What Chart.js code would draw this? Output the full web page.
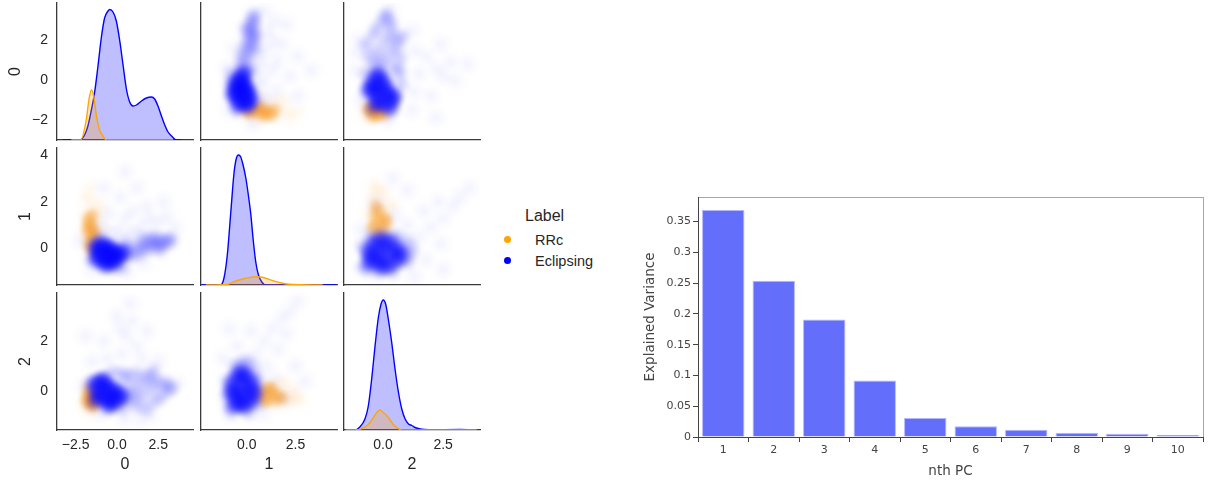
<!DOCTYPE html>
<html>
<head>
<meta charset="utf-8">
<script src="https://cdn.jsdelivr.net/npm/chart.js@4.4.1/dist/chart.umd.min.js"></script>
<style>
  html, body { margin: 0; padding: 0; background: #fff; }
  body { position: relative; width: 1211px; height: 481px; overflow: hidden; }
  canvas { position: absolute; }
  .lg { position: absolute; font-family: 'Liberation Sans', Arial, sans-serif; color: #262626; white-space: nowrap; }
  .dot { position: absolute; width: 7px; height: 7px; border-radius: 50%; }
</style>
</head>
<body>
<div class="lg" style="left:525px;top:206px;font-size:16px;line-height:20px">Label</div>
<div class="dot" style="left:504px;top:236px;background:#ffa500"></div>
<div class="lg" id="lgA" style="left:535px;top:230px;font-size:14.5px;line-height:20px"></div>
<div class="dot" style="left:504px;top:257px;background:#0000ff"></div>
<div class="lg" id="lgB" style="left:535px;top:251px;font-size:14.5px;line-height:20px"></div>
<canvas id="pcaChart" width="581" height="296" style="left:630px;top:185px"></canvas>
<script>
// ---- pair grid data ----
const varNames = ['0', '1', '2'];
const hueLabels = ['RRc', 'Eclipsing'];
const colTicks = [[-2.5, 0, 2.5], [0, 2.5], [0, 2.5]];
const rowTicks = [[-2, 0, 2], [0, 2, 4], [0, 2]];

// KDE curves on the diagonal (density in arbitrary units)
const kde0BlueX = [-3.27, -2.26, -1.96, -1.76, -1.55, -1.35, -1.15, -0.95, -0.75, -0.54, -0.44, -0.24, -0.04, 0.16, 0.36, 0.57, 0.77, 0.97, 1.18, 1.48, 1.78, 2.08, 2.28, 2.48, 2.69, 2.89, 3.09, 3.3, 3.6, 3.9];
const kde0Blue = [0, 0, 5, 14, 30, 48, 74, 102, 122, 129, 130.5, 128, 119, 100, 76, 51, 38, 34, 35, 39, 42, 43, 41, 34, 24, 15, 8, 4, 0, 0];
const kde0OrangeX = [-2.76, -2.2, -1.86, -1.7, -1.55, -1.41, -1.25, -1.05, -0.85, -0.64, 3.4];
const kde0Orange = [0, 0, 20, 40, 50, 44, 25, 10, 4, 0, 0];

const kde1BlueX = [-2.3, -1.34, -1.17, -1.0, -0.82, -0.65, -0.53, -0.43, -0.31, -0.19, -0.05, 0.08, 0.21, 0.32, 0.46, 0.6, 0.77, 0.98, 4.6];
const kde1Blue = [0, 0, 7, 30, 73, 113, 127, 130, 128, 120, 107, 90, 70, 47, 23, 10, 3, 0, 0];
const kde1OrangeX = [-2.1, -1.0, -0.74, -0.4, -0.05, 0.29, 0.55, 0.8, 1.15, 1.49, 1.83, 2.18, 3.9];
const kde1Orange = [0, 0.5, 2.7, 5, 6.7, 8, 8.3, 7.7, 5.7, 3.3, 1.7, 0.7, 0];

const kde2BlueX = [-1.55, -1.17, -0.96, -0.75, -0.61, -0.47, -0.33, -0.19, -0.08, 0.01, 0.11, 0.22, 0.36, 0.5, 0.64, 0.78, 0.92, 1.06, 1.2, 1.33, 1.54, 1.9, 3.2, 3.9];
const kde2Blue = [0, 0, 3, 11, 24, 51, 84, 113, 126, 130, 126, 111, 88, 61, 38, 21, 11, 6, 4.5, 2.5, 1, 0.3, 0.5, 0];
const kde2OrangeX = [-1.55, -1.17, -0.61, -0.4, -0.26, -0.12, 0.01, 0.15, 0.29, 0.43, 0.57, 0.78, 3.9];
const kde2Orange = [0, 0, 5.5, 12.5, 17.5, 20, 17.5, 14.5, 10.5, 5.5, 2.5, 0, 0];

// scatter clouds, pairs of [var a, var b] with a < b
const cloud01BlueCore = [[-1.3, 0.05], [-1.1, -0.2], [-1.0, 0.15], [-0.8, -0.05], [-0.8, -0.4], [-0.6, 0.1], [-0.55, -0.25], [-0.5, -0.6], [-0.35, -0.05], [-0.3, -0.4], [-0.1, -0.2], [-0.1, -0.55], [0.15, -0.3], [0.35, -0.15], [-1.2, -0.45], [-0.75, -0.7]];
const cloud01BlueMid = [[0.7, -0.3], [0.9, 0.0], [1.1, -0.3], [1.3, 0.1], [1.5, -0.15], [1.7, 0.2], [1.9, 0.0], [2.1, 0.3], [2.3, 0.1], [2.5, 0.35], [2.7, 0.15], [2.9, 0.4], [3.1, 0.25], [3.3, 0.4], [2.2, 0.5], [2.6, -0.05], [1.6, 0.45], [0.5, 0.2], [-1.5, -0.5], [0.3, -0.8], [-0.2, -0.85], [-1.0, 0.45]];
const cloud01BlueFaint = [[0.0, 0.8], [0.5, 1.3], [1.0, 1.6], [1.5, 1.0], [-0.5, 1.5], [0.2, 2.2], [1.2, 2.6], [2.5, 1.1], [0.8, 0.7], [-1.0, 1.0], [1.8, 1.8], [0.5, 3.3], [2.8, 2.0], [0.6, -1.0], [1.6, -0.6], [-1.5, -0.9], [3.5, 0.9], [-0.8, 2.6], [-0.3, 0.6], [0.3, 0.4], [1.1, 0.6], [2.0, 1.3], [-2.2, 0.3], [3.0, 1.4]];
const cloud01OrangeCore = [[-1.7, 0.2], [-1.5, 0.4], [-1.65, 0.65], [-1.45, 0.85], [-1.6, 1.05], [-1.75, 1.25], [-1.5, 1.45], [-1.35, 0.6], [-1.8, 0.9], [-1.55, 0.0]];
const cloud01OrangeFaint = [[-1.3, 1.2], [-1.9, 2.2], [-1.5, 2.0], [-1.1, 1.5], [-1.9, 1.5], [-1.2, 0.3], [-2.0, 0.6], [-1.6, 2.6], [-1.0, 1.9], [-1.3, -0.3], [-1.7, -0.3], [-0.9, 0.8]];

const cloud02BlueCore = [[-1.4, 0.3], [-1.2, 0.0], [-1.0, 0.35], [-0.9, -0.2], [-0.7, 0.15], [-0.6, -0.35], [-0.45, 0.1], [-0.35, -0.2], [-0.2, -0.45], [-0.1, 0.05], [0.1, -0.3], [0.3, -0.15], [-0.8, 0.45], [-0.5, -0.6], [-1.2, -0.3]];
const cloud02BlueMid = [[0.6, 0.5], [0.7, -0.4], [0.9, 0.1], [1.1, 0.7], [1.2, -0.6], [1.4, 0.3], [1.5, -0.2], [1.7, 0.6], [1.8, -0.7], [2.0, 0.1], [2.1, 0.5], [2.3, -0.4], [2.5, 0.3], [2.7, -0.2], [2.9, 0.35], [3.1, 0.05], [3.3, 0.15], [1.0, -0.2], [2.2, 0.8], [0.4, 0.7], [-0.2, 0.75], [-1.5, -0.5], [0.3, -0.7]];
const cloud02BlueFaint = [[0.8, 3.5], [0.9, 2.8], [0.6, 2.2], [1.2, 1.8], [0.3, 1.5], [-0.6, 1.3], [-1.5, 1.2], [-1.9, 2.2], [0.0, 3.0], [1.5, 1.3], [2.5, 1.2], [-0.8, 2.0], [1.8, 2.4], [-1.0, -0.9], [0.5, -1.1], [1.4, -1.1], [3.6, 0.3], [-2.0, 0.2], [2.0, -1.0], [0.2, 2.5]];
const cloud02OrangeCore = [[-1.75, -0.2], [-1.6, -0.45], [-1.45, -0.3], [-1.5, -0.6], [-1.7, 0.05], [-1.35, -0.5], [-1.6, -0.15], [-1.85, -0.4]];
const cloud02OrangeFaint = [[-1.9, 0.2], [-1.2, -0.7], [-1.0, -0.3], [-2.0, -0.6], [-1.4, 0.2], [-1.7, -0.8], [-1.1, 0.0]];

const cloud12BlueCore = [[-0.7, 0.3], [-0.6, -0.2], [-0.5, 0.6], [-0.4, 0.0], [-0.35, -0.45], [-0.2, 0.35], [-0.1, -0.2], [0.0, 0.6], [0.1, 0.1], [0.2, -0.4], [0.3, 0.3], [-0.6, -0.55], [-0.8, 0.0], [0.35, -0.1], [-0.25, 0.75], [-0.15, -0.6]];
const cloud12BlueMid = [[-1.0, 0.4], [-0.9, -0.6], [0.5, 0.6], [0.5, -0.5], [-0.3, 1.1], [0.1, -0.85], [-0.6, 1.0], [0.3, 1.0], [-0.8, -0.85], [0.6, 0.0], [-1.0, -0.2], [0.0, 1.2]];
const cloud12BlueFaint = [[0.5, 1.5], [0.9, 2.0], [1.3, 2.5], [1.8, 2.9], [2.2, 3.2], [2.6, 3.6], [1.0, 1.0], [1.6, 1.7], [-0.5, 1.8], [0.2, 2.4], [2.0, 2.3], [1.4, 0.5], [2.5, 1.0], [-1.2, 1.3], [0.8, -0.9], [3.0, 0.4], [-0.9, 2.5], [1.9, -0.3]];
const cloud12OrangeCore = [[0.6, -0.2], [0.8, 0.0], [1.0, -0.3], [1.2, -0.1], [1.4, -0.35], [1.1, 0.15], [1.6, -0.15], [1.8, -0.3], [0.9, -0.45], [1.3, 0.1]];
const cloud12OrangeFaint = [[2.0, -0.1], [2.3, -0.3], [2.6, -0.2], [1.7, 0.25], [2.1, -0.5], [0.7, 0.3], [1.5, -0.6], [2.4, 0.1], [2.7, -0.4], [1.9, 0.4]];

// ---- PCA data ----
const pcLabels = ['1', '2', '3', '4', '5', '6', '7', '8', '9', '10'];
const explainedVar = [0.369, 0.254, 0.191, 0.092, 0.031, 0.0173, 0.0119, 0.007, 0.0054, 0.0037];
const varTicks = [0, 0.05, 0.1, 0.15, 0.2, 0.25, 0.3, 0.35];

// ---- pair grid layout ----
const colLeft = [57, 201, 344];
const rowTop = [3, 148, 293];
const PW = 136, PH = 137;
const colLim = [[-3.63, 4.6], [-2.35, 4.63], [-1.62, 4.03]];
const rowLim = [[-3.02, 3.9], [-1.57, 4.32], [-1.56, 3.94]];

const SPINE = '#3a3a3a';
const INK = '#262626';
const FONT = "'Liberation Sans', Arial, sans-serif";
const BLUE = '#0000ff';
const ORANGE = '#ffa500';

document.getElementById('lgA').textContent = hueLabels[0];
document.getElementById('lgB').textContent = hueLabels[1];

const minus = v => (v < 0 ? '\u2212' : '');
const fmtCol = v => minus(v) + Math.abs(v).toFixed(1);
const fmtRow = v => minus(v) + Math.abs(v);

const toPts = (xs, ys) => xs.map((x, i) => ({x: x, y: ys[i]}));
const cloudPts = (pairs, flip) => pairs.map(p => flip ? {x: p[1], y: p[0]} : {x: p[0], y: p[1]});

const kdes = [
  {bx: kde0BlueX, b: kde0Blue, ox: kde0OrangeX, o: kde0Orange},
  {bx: kde1BlueX, b: kde1Blue, ox: kde1OrangeX, o: kde1Orange},
  {bx: kde2BlueX, b: kde2Blue, ox: kde2OrangeX, o: kde2Orange}
];
const clouds = {
  '0,1': [cloud01BlueCore, cloud01BlueMid, cloud01BlueFaint, cloud01OrangeCore, cloud01OrangeFaint],
  '0,2': [cloud02BlueCore, cloud02BlueMid, cloud02BlueFaint, cloud02OrangeCore, cloud02OrangeFaint],
  '1,2': [cloud12BlueCore, cloud12BlueMid, cloud12BlueFaint, cloud12OrangeCore, cloud12OrangeFaint]
};

// blur per layer so the dense cores stay solid and the halo spreads out
const layerBlur = [3, 3.5, 5, 2.5, 4];
const haze = {
  id: 'haze',
  beforeDatasetDraw(chart, args) { chart.ctx.save(); chart.ctx.filter = 'blur(' + layerBlur[args.index] + 'px)'; },
  afterDatasetDraw(chart) { chart.ctx.restore(); }
};

// fixed axis box, no extra room for edge labels
function fixBox(a, w, h) {
  if (w !== null) a.width = w;
  if (h !== null) a.height = h;
  a.paddingTop = a.paddingBottom = a.paddingLeft = a.paddingRight = 0;
}

function makeScales(r, c, padL, padB, diag) {
  const left = c === 0, bottom = r === 2;
  const s = {
    x: {
      type: 'linear', min: colLim[c][0], max: colLim[c][1],
      grid: {display: false, drawTicks: false},
      border: {color: SPINE, width: 1.3},
      ticks: {display: bottom, padding: 7, maxRotation: 0, color: INK, font: {family: FONT, size: 14}, callback: fmtCol},
      title: {display: bottom, text: varNames[c], color: INK, font: {family: FONT, size: 16}, padding: 0},
      afterBuildTicks: a => { a.ticks = colTicks[c].map(v => ({value: v})); },
      afterFit: a => fixBox(a, null, padB)
    },
    y: {
      type: 'linear', min: rowLim[r][0], max: rowLim[r][1],
      grid: {display: false, drawTicks: false},
      border: {color: SPINE, width: 1.3},
      ticks: {display: left, padding: 9, color: INK, font: {family: FONT, size: 14}, callback: fmtRow},
      title: {display: left, text: varNames[r], color: INK, font: {family: FONT, size: 16}, padding: 0},
      afterBuildTicks: a => { a.ticks = rowTicks[r].map(v => ({value: v})); },
      afterFit: a => fixBox(a, padL, null)
    }
  };
  if (diag) s.yd = {type: 'linear', display: false, min: 0, max: PH};
  return s;
}

function kdeSet(xs, ys, color, fill) {
  return {
    data: toPts(xs, ys), yAxisID: 'yd',
    borderColor: color, borderWidth: 1.4, backgroundColor: fill, fill: 'origin',
    pointRadius: 0, cubicInterpolationMode: 'monotone'
  };
}

function cloudSets(key, flip) {
  const [bc, bm, bf, oc, of] = clouds[key];
  const dot = (pairs, color, radius) => ({
    data: cloudPts(pairs, flip), backgroundColor: color, borderWidth: 0, pointRadius: radius
  });
  // first dataset is drawn on top
  return [
    dot(bc, 'rgba(0,0,255,0.55)', 8),
    dot(bm, 'rgba(0,0,255,0.2)', 6.5),
    dot(bf, 'rgba(0,0,255,0.07)', 6),
    dot(oc, 'rgba(245,145,20,0.35)', 6.5),
    dot(of, 'rgba(255,160,0,0.12)', 5)
  ];
}

for (let r = 0; r < 3; r++) {
  for (let c = 0; c < 3; c++) {
    const padL = c === 0 ? (r === 0 ? 51 : 41) : 2;
    const padB = r === 2 ? 44 : 2;
    const cv = document.createElement('canvas');
    cv.width = PW + padL + 2;
    cv.height = PH + padB + 2;
    cv.style.left = (colLeft[c] - padL) + 'px';
    cv.style.top = (rowTop[r] - 2) + 'px';
    document.body.appendChild(cv);

    const diag = r === c;
    let datasets;
    if (diag) {
      const k = kdes[r];
      datasets = [
        kdeSet(k.ox, k.o, ORANGE, 'rgba(255,165,0,0.25)'),
        kdeSet(k.bx, k.b, BLUE, 'rgba(0,0,255,0.25)')
      ];
    } else {
      const lo = Math.min(r, c), hi = Math.max(r, c);
      datasets = cloudSets(lo + ',' + hi, c > r);
    }

    new Chart(cv, {
      type: diag ? 'line' : 'scatter',
      data: {datasets: datasets},
      options: {
        responsive: false, animation: false, events: [],
        layout: {autoPadding: false, padding: {top: 2, right: 2, left: 0, bottom: 0}},
        plugins: {legend: {display: false}, tooltip: {enabled: false}},
        scales: makeScales(r, c, padL, padB, diag)
      },
      plugins: diag ? [] : [haze]
    });
  }
}

// ---- explained variance bars ----
const frame = {
  id: 'frame',
  beforeDraw(chart) {
    const {ctx, chartArea: a} = chart;
    ctx.save();
    ctx.strokeStyle = '#a8a8a8';
    ctx.lineWidth = 1;
    ctx.strokeRect(Math.round(a.left) + 0.5, Math.round(a.top) + 0.5, Math.round(a.right - a.left), Math.round(a.bottom - a.top));
    ctx.restore();
  }
};

const PFONT = "'DejaVu Sans', Verdana, sans-serif";
const PINK = '#444';

new Chart(document.getElementById('pcaChart'), {
  type: 'bar',
  data: {
    labels: pcLabels,
    datasets: [{
      data: explainedVar,
      backgroundColor: '#636efa',
      borderColor: '#b4b8fb',
      borderWidth: 1,
      barPercentage: 0.84,
      categoryPercentage: 1
    }]
  },
  options: {
    responsive: false, animation: false, events: [],
    layout: {autoPadding: false, padding: {top: 12, right: 8, left: 0, bottom: 0}},
    plugins: {legend: {display: false}, tooltip: {enabled: false}},
    scales: {
      x: {
        grid: {display: true, drawOnChartArea: false, tickLength: 5, color: PINK},
        border: {color: PINK, width: 1},
        ticks: {padding: 2, maxRotation: 0, color: PINK, font: {family: PFONT, size: 11}},
        title: {display: true, text: 'nth PC', color: PINK, font: {family: PFONT, size: 13.5}, padding: {top: 0, bottom: 1}},
        afterFit: a => fixBox(a, null, 44)
      },
      y: {
        min: 0, max: 0.39,
        grid: {display: true, drawOnChartArea: false, tickLength: 5, color: PINK},
        border: {color: PINK, width: 1},
        ticks: {padding: 2, color: PINK, font: {family: PFONT, size: 11}, callback: v => String(v)},
        title: {display: true, text: 'Explained Variance', color: PINK, font: {family: PFONT, size: 13.5}, padding: {top: 12, bottom: 0}},
        afterBuildTicks: a => { a.ticks = varTicks.map(v => ({value: v})); },
        afterFit: a => fixBox(a, 68, null)
      }
    }
  },
  plugins: [frame]
});
</script>
</body>
</html>
